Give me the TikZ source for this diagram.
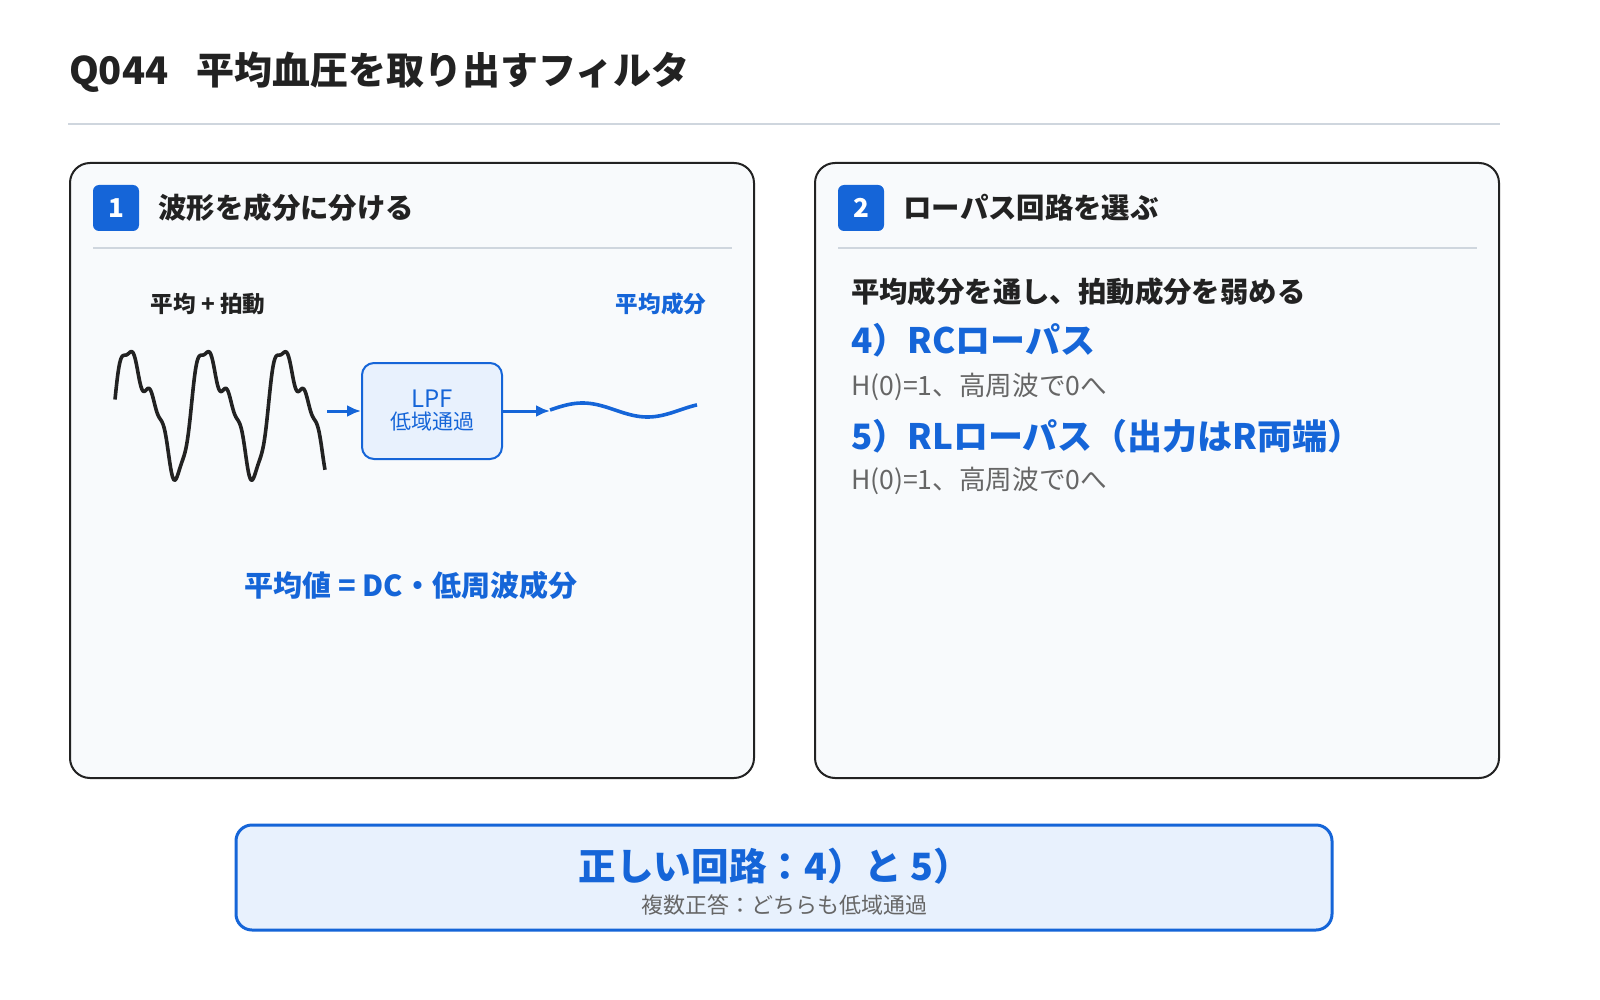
\documentclass[tikz,border=0pt]{standalone}
\usepackage{fontspec}
\setmainfont{Noto Sans CJK JP}
\usetikzlibrary{positioning,arrows.meta}
\definecolor{qblue}{HTML}{1565D8}
\definecolor{qdark}{HTML}{222222}
\definecolor{qgray}{HTML}{666666}
\definecolor{qline}{HTML}{CFD6DE}
\definecolor{qpanel}{HTML}{F8FAFC}
\definecolor{qlight}{HTML}{E8F1FD}
\begin{document}
\begin{tikzpicture}[
				x=0.5pt, y=-0.5pt,
				panel/.style={draw=qdark, line width=1pt, fill=qpanel, rounded corners=10pt},
				badge/.style={fill=qblue, rounded corners=3pt, minimum width=23pt, minimum height=23pt, text=white, font=\fontsize{13}{13}\selectfont\bfseries, inner sep=0pt},
				heading/.style={anchor=west, text=qdark, font=\fontsize{14.2}{15}\selectfont\bfseries},
				answer/.style={anchor=west, text=qblue, font=\fontsize{17.5}{18}\selectfont\bfseries},
				note/.style={anchor=west, text=qgray, font=\fontsize{13.3}{14}\selectfont},
				arrow/.style={-{Latex[length=7pt,width=6pt]}, qblue, line width=1.5pt}
				]
				\useasboundingbox (0,0) rectangle (1600,1000);
				\fill[white] (0,0) rectangle (1600,1000);
				% Titolo
				\node[anchor=west, text=qdark, font=\fontsize{19}{19}\selectfont\bfseries] (title) at (62,72) {Q044\hspace{14pt}平均血圧を取り出すフィルタ};
				\draw[qline, line width=1pt] (68,124) -- (1500,124);
				
				% Pannelli
				\draw[panel] (70,163) rectangle (754,778);
				\draw[panel] (815,163) rectangle (1499,778);
				\node[badge] (b1) at (116,208) {1};
				\node[heading, right=6pt of b1] (h1) {波形を成分に分ける};
				\draw[qline, line width=0.8pt] (93,248) -- (732,248);
				\node[badge] (b2) at (861,208) {2};
				\node[heading, right=6pt of b2] (h2) {ローパス回路を選ぶ};
				\draw[qline, line width=0.8pt] (838,248) -- (1477,248);
				
				% Forme d'onda
				\node[text=qdark, font=\fontsize{11.3}{11}\selectfont\bfseries] (lin) at (208,304) {平均 + 拍動};
				\node[text=qblue, font=\fontsize{11.3}{11}\selectfont\bfseries] (lout) at (661,304) {平均成分};
				\draw[qdark, line width=1.8pt, line join=round] plot[domain=0:210, samples=220, smooth]
					(115+\x, {408 - 55*sin(deg(6.2832*\x/77)) - 20*sin(deg(12.566*\x/77)+25) - 6*sin(deg(31.4*\x/77))});
				\coordinate (win) at (327,411);
				\node[draw=qblue, line width=1pt, fill=qlight, rounded corners=6pt, minimum width=70pt, minimum height=48pt, align=center, text=qblue, inner sep=0pt] (lpf) at (432,411)
					{{\fontsize{12}{14}\selectfont LPF}\\[-1pt]{\fontsize{10.5}{12}\selectfont 低域通過}};
				\coordinate (wout) at (550,411);
				\draw[arrow] (win) -- (lpf);
				\draw[arrow] (lpf) -- (wout);
				\draw[qblue, line width=1.8pt] plot[domain=0:147, samples=80, smooth]
					(550+\x, {410 - 7*sin(deg(6.2832*\x/130))});
				\node[text=qblue, font=\fontsize{14.5}{15}\selectfont\bfseries] (dc) at (411,585) {平均値 = DC・低周波成分};
				
				% Risposte
				\node[heading] (q) at (844,292) {平均成分を通し、拍動成分を弱める};
				\node[answer] (a4) at (844,340) {4）RCローパス};
				\node[note] (n4) at (844,387) {H(0)=1、高周波で0へ};
				\node[answer] (a5) at (844,436) {5）RLローパス（出力はR両端）};
				\node[note] (n5) at (844,481) {H(0)=1、高周波で0へ};
				
				% Conclusione
				\draw[draw=qblue, line width=1.5pt, fill=qlight, rounded corners=8pt] (236,825) rectangle (1332,930);
				\node[text=qblue, font=\fontsize{18.8}{19}\selectfont\bfseries] (res) at (775,866) {正しい回路：4）と 5）};
				\node[text=qgray, font=\fontsize{11}{11}\selectfont] (sub) at (784,905) {複数正答：どちらも低域通過};
			\end{tikzpicture}
\end{document}
